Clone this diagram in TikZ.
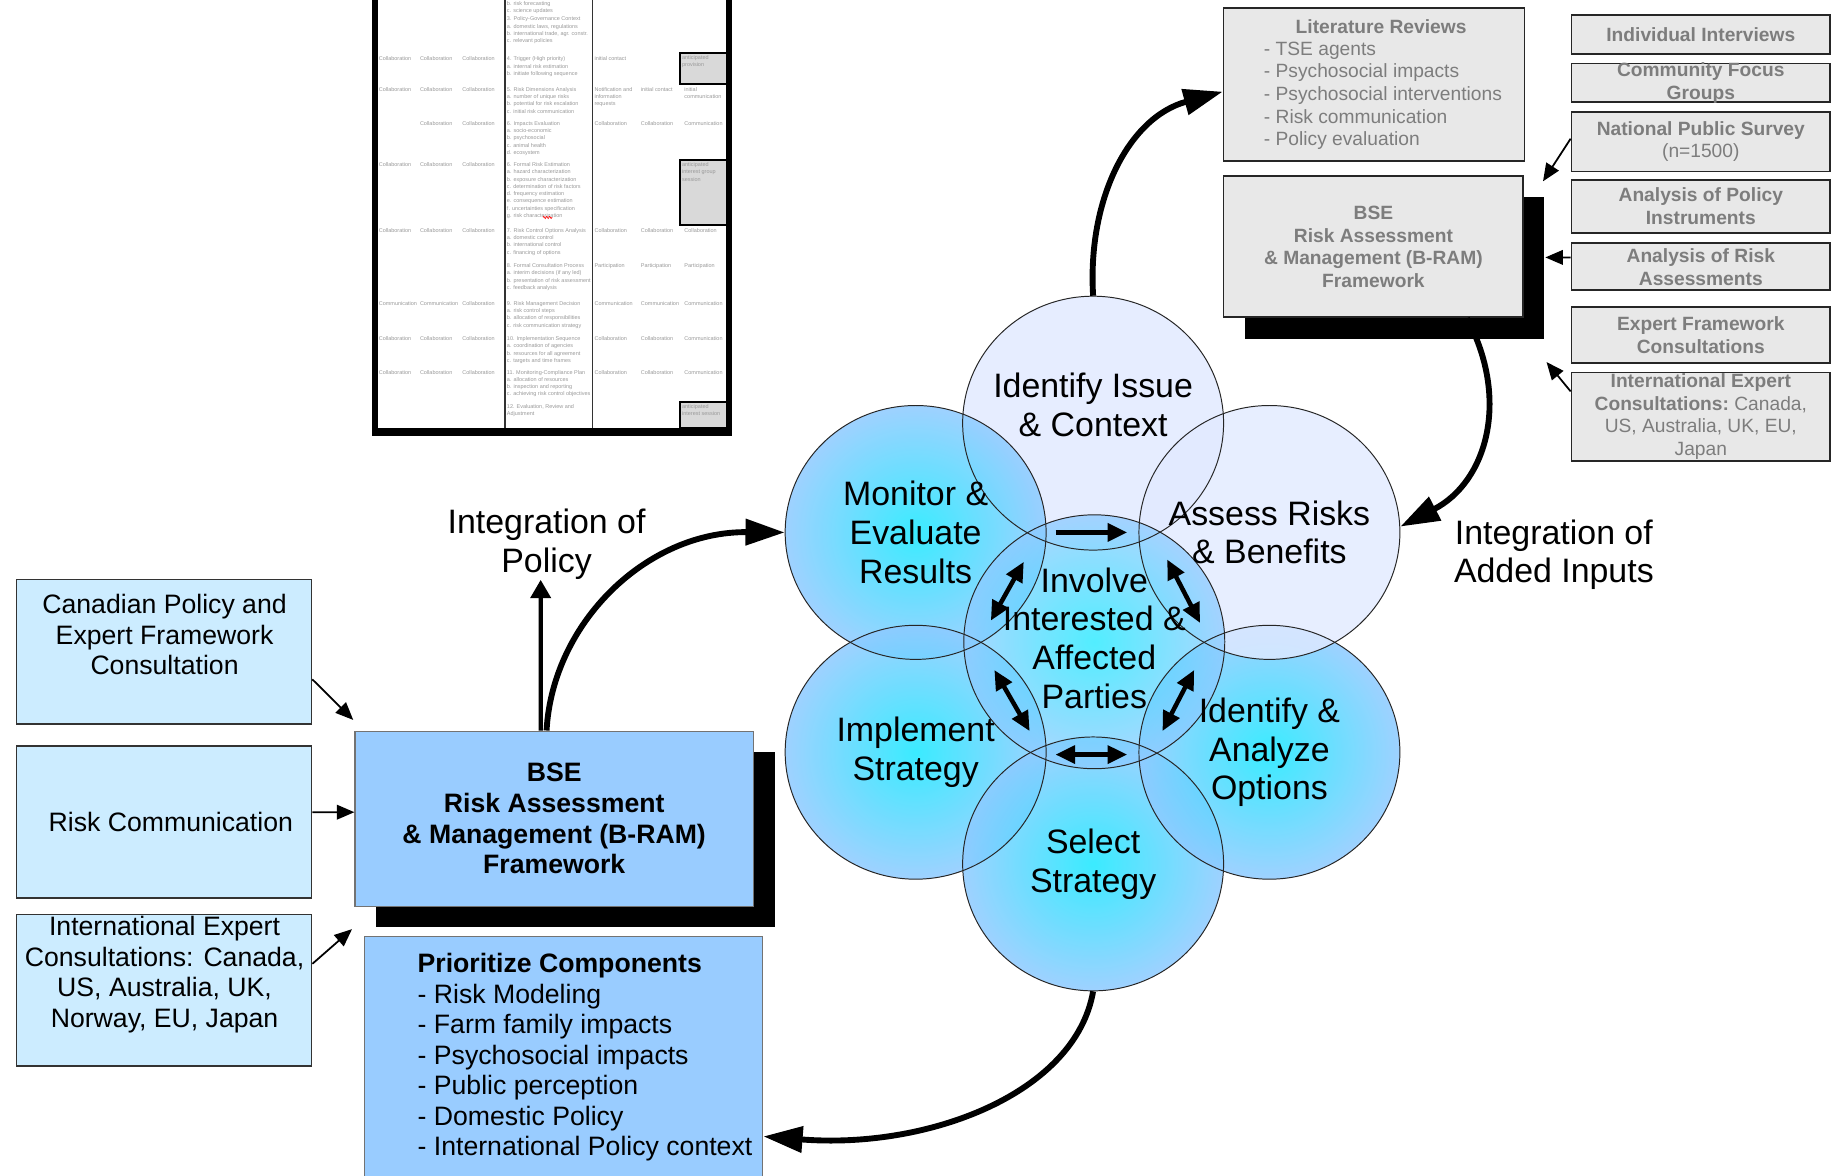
\documentclass[tikz,border=0pt]{standalone}
\usepackage{fontspec}
\setmainfont{Liberation Sans}
\usetikzlibrary{arrows.meta,shapes.geometric,shadows,decorations.pathmorphing}

\definecolor{paleblue}{RGB}{204,236,255}
\definecolor{midblue}{RGB}{153,204,255}
\definecolor{boxgray}{RGB}{232,232,232}
\definecolor{textgray}{RGB}{125,125,125}
\definecolor{ringcyan}{RGB}{25,232,255}
\definecolor{ringblue}{RGB}{142,202,255}
\definecolor{ringpale}{RGB}{226,234,255}

\newcommand{\circfont}{\fontsize{17.3}{19.8}\selectfont}
\newcommand{\boxfont}{\fontsize{13.6}{15.6}\selectfont}
\newcommand{\grayfont}{\fontsize{9.8}{11.6}\selectfont}
\newcommand{\tabfont}{\fontsize{2.8}{3.7}\selectfont}

\tikzset{>={Triangle[length=9pt,width=7.5pt]}}
\tikzset{
  lbox/.style={draw=black!80,line width=0.9pt,fill=paleblue,minimum width=150.6pt,inner sep=0pt},
  ltext/.style={font=\boxfont,align=center,inner sep=0pt},
  bbox/.style={draw=black!55,line width=0.6pt,fill=midblue,inner sep=0pt},
  bshadow/.style={drop shadow={shadow xshift=10.8pt,shadow yshift=-10.8pt,fill=black,opacity=1}},
  gbox/.style={draw=black!85,line width=0.9pt,fill=boxgray,inner sep=0pt,font=\grayfont\bfseries,text=textgray,align=center},
  gtext/.style={font=\grayfont,text=textgray,align=left,inner sep=0pt},
  ring/.style={ellipse,draw=black!85,line width=0.5pt,minimum width=133.2pt,minimum height=129.6pt,inner sep=0pt},
  ctext/.style={font=\circfont,align=center,inner sep=0pt},
  cell/.style={font=\tabfont,text=black!40,align=left,inner sep=0pt,anchor=north west},
  bigarrow/.style={line width=3pt,-{Triangle[length=20pt,width=13pt]}},
  thinarrow/.style={line width=0.9pt,->},
  uparrow/.style={line width=2.2pt,-{Triangle[length=9.4pt,width=10.2pt]}},
  lensone/.style={line width=2.3pt,-{Triangle[length=10pt,width=9pt]}},
  lenstwo/.style={line width=2.3pt,{Triangle[length=10pt,width=9pt]}-{Triangle[length=10pt,width=9pt]}},
  blueshade/.style={inner color=ringcyan,outer color=ringblue,fill opacity=0.85},
}

\begin{document}
\begin{tikzpicture}[x=0.6pt,y=-0.6pt]
  \clip (0,0) rectangle (1568,1000);
  \fill[white] (0,0) rectangle (1568,1000);

  % table excerpt
  \fill[black] (316.5,-5) rectangle (321.5,371);
  \fill[black] (617.7,-5) rectangle (622.7,371);
  \fill[black] (316.5,364) rectangle (622.7,371);
  \draw[line width=0.7pt,black!80] (429.6,-5) -- (429.6,364) (504,-5) -- (504,364);
  \foreach \ya/\yb in {45/71.5,136/191.5,342/364}
    \draw[line width=0.9pt,fill=black!15] (617.7,\ya) -- (578.5,\ya) -- (578.5,\yb) -- (617.7,\yb);
  \node[cell] (g1) at (580,47) {anticipated\\provision};
  \node[cell] (g2) at (580,138) {anticipated\\interest group\\session};
  \node[cell] (g3) at (580,344) {anticipated\\interest session};

  \foreach \y/\p/\q/\r [count=\k] in {48/Collaboration/Collaboration/Collaboration,
      74/Collaboration/Collaboration/Collaboration, 103//Collaboration/Collaboration,
      138/Collaboration/Collaboration/Collaboration, 194/Collaboration/Collaboration/Collaboration,
      256/Communication/Communication/Collaboration, 286/Collaboration/Collaboration/Collaboration,
      314.5/Collaboration/Collaboration/Collaboration}
  {
    \node[cell] (la\k) at (322,\y) {\p};
    \node[cell] (lb\k) at (357,\y) {\q};
    \node[cell] (lc\k) at (393,\y) {\r};
  }

  \foreach \y/\t [count=\k] in {1/{b. risk forecasting\\c. science updates},
      14/{3. Policy-Governance Context\\a. domestic laws, regulations\\b. international trade, agr. constr.\\c. relevant policies},
      48/{4. Trigger (High priority)\\a. internal risk estimation\\b. initiate following sequence},
      74/{5. Risk Dimensions Analysis\\a. number of unique risks\\b. potential for risk escalation\\c. initial risk communication},
      103/{6. Impacts Evaluation\\a. socio-economic\\b. psychosocial\\c. animal health\\d. ecosystem},
      138/{6. Formal Risk Estimation\\a. hazard characterization\\b. exposure characterization\\c. determination of risk factors\\d. frequency estimation\\e. consequence estimation\\f. uncertainties specification\\g. risk characterization},
      194/{7. Risk Control Options Analysis\\a. domestic control\\b. international control\\c. financing of options},
      224/{8. Formal Consultation Process\\a. interim decisions (if any led)\\b. presentation of risk assessment\\c. feedback analysis},
      256/{9. Risk Management Decision\\a. risk control steps\\b. allocation of responsibilities\\c. risk communication strategy},
      286/{10. Implementation Sequence\\a. coordination of agencies\\b. resources for all agreement\\c. targets and time frames},
      314.5/{11. Monitoring-Compliance Plan\\a. allocation of resources\\b. inspection and reporting\\c. achieving risk control objectives},
      344/{12. Evaluation, Review and\\Adjustment}}
    \node[cell] (m\k) at (431,\y) {\t};
  \draw[red,line width=0.3pt,decorate,decoration={zigzag,segment length=1.5pt,amplitude=0.6pt}] (462,185) -- (470,185);

  \foreach \y/\p/\q/\r [count=\k] in {48/{initial contact}//,
      74/{Notification and\\information\\requests}/{initial contact}/{initial\\communication},
      103/Collaboration/Collaboration/Communication, 194/Collaboration/Collaboration/Collaboration,
      224/Participation/Participation/Participation, 256/Communication/Communication/Communication,
      286/Collaboration/Collaboration/Communication, 314.5/Collaboration/Collaboration/Communication}
  {
    \node[cell] (ra\k) at (505.5,\y) {\p};
    \node[cell] (rb\k) at (545,\y) {\q};
    \node[cell] (rc\k) at (582,\y) {\r};
  }

  % the seven circles
  \coordinate (c-issue) at (930,360);
  \coordinate (c-monitor) at (779,453);
  \coordinate (c-assess) at (1080,453);
  \coordinate (c-involve) at (931,546);
  \coordinate (c-implement) at (779,640);
  \coordinate (c-analyze) at (1080,640);
  \coordinate (c-select) at (930,735);

  \fill[ringpale,fill opacity=0.85] (c-issue) ellipse [x radius=111,y radius=108];
  \foreach \c in {monitor,implement,select,analyze}
    \shade[blueshade] (c-\c) ellipse [x radius=111,y radius=108];
  \fill[ringpale,fill opacity=0.8] (c-assess) ellipse [x radius=111,y radius=108];
  \shade[inner color=ringcyan,outer color=ringblue,fill opacity=0.75] (c-involve) ellipse [x radius=111,y radius=108];
  \foreach \c in {issue,monitor,assess,implement,analyze,select,involve}
    \node[ring] (\c) at (c-\c) {};

  \node[ctext] (t-issue) at ([yshift=9.3pt]issue.center) {Identify Issue\\\& Context};
  \node[ctext] (t-monitor) at (monitor) {Monitor \&\\Evaluate\\Results};
  \node[ctext] (t-assess) at (assess) {Assess Risks\\\& Benefits};
  \node[ctext] (t-involve) at ([yshift=1.8pt]involve.center) {Involve\\Interested \&\\Affected\\Parties};
  \node[ctext] (t-implement) at (implement) {Implement\\Strategy};
  \node[ctext] (t-analyze) at (analyze) {Identify \&\\Analyze\\Options};
  \node[ctext] (t-select) at (select) {Select\\Strategy};

  \foreach \sx/\sy/\ex/\ey/\kind in {-33/-93/28/-93/lensone, -60/-68/-88/-18/lenstwo, 62/-70/90/-16/lenstwo,
      -85/24/-55/76/lenstwo, 85/24/58/76/lenstwo, -33/96/28/96/lenstwo}
    \draw[\kind] ([shift={(\sx,\sy)}]involve.center) -- ([shift={(\ex,\ey)}]involve.center);

  % right hand inputs
  \node[gbox,minimum width=153.6pt,minimum height=78pt] (lit) at (1169,72) {};
  \node[gtext,font=\grayfont\bfseries] (littitle) at (1175,23) {Literature Reviews};
  \node[gtext,anchor=west] (litlist) at (1075,81.5) {- TSE agents\\- Psychosocial impacts\\- Psychosocial interventions\\- Risk communication\\- Policy evaluation};
  \node[gbox,bshadow,minimum width=153pt,minimum height=72pt] (grbse) at (1168.5,210) {BSE\\Risk Assessment\\\& Management (B-RAM)\\Framework};

  \node[gbox,minimum width=132pt,minimum height=19.8pt] (indiv) at (1447,29.5) {Individual Interviews};
  \node[gbox,minimum width=132pt,minimum height=19.8pt] (focus) at (1447,70.5) {};
  \node[gtext,font=\grayfont\bfseries,align=center] (focustext) at (focus) {Community Focus\\Groups};
  \node[gbox,minimum width=132pt,minimum height=30.6pt] (npsurvey) at (1447,120.5) {National Public Survey\\{\mdseries (n=1500)}};
  \node[gbox,minimum width=132pt,minimum height=27pt] (policy) at (1447,175.5) {Analysis of Policy\\Instruments};
  \node[gbox,minimum width=132pt,minimum height=24pt] (riskass) at (1447,227) {Analysis of Risk\\Assessments};
  \node[gbox,minimum width=132pt,minimum height=28.8pt] (expert) at (1447,285) {Expert Framework\\Consultations};
  \node[gbox,minimum width=132pt,minimum height=45pt] (intlr) at (1447,354.5) {International Expert\\Consultations:{\mdseries\ Canada,}\\{\mdseries US, Australia, UK, EU,}\\{\mdseries Japan}};

  \draw[thinarrow] ([yshift=1.5pt]npsurvey.west) -- ([shift={(16,5)}]grbse.north east);
  \draw[thinarrow] ([yshift=4.8pt]riskass.west) -- ([shift={(18,9)}]grbse.east);
  \draw[thinarrow] ([yshift=12.9pt]intlr.west) -- ([shift={(19,98)}]grbse.east);

  % left hand inputs
  \node[lbox,minimum height=73.8pt] (canad) at (139.5,554.5) {};
  \node[ltext] (canadtext) at (140,540) {Canadian Policy and\\Expert Framework\\Consultation};
  \node[lbox,minimum height=77.4pt,font=\boxfont] (riskcomm) at (139.5,699.5) {\hspace{7pt}Risk Communication};
  \node[lbox,minimum height=77.4pt] (intll) at (139.5,842.5) {};
  \node[ltext] (intlltext) at (140,829) {International Expert\\Consultations: Canada,\\US, Australia, UK,\\Norway, EU, Japan};

  \node[bbox,bshadow,minimum width=203.4pt,minimum height=89.4pt,font=\boxfont\bfseries,align=center] (bseb) at (471.5,696.5) {BSE\\Risk Assessment\\\& Management (B-RAM)\\Framework};
  \node[bbox,minimum width=203.4pt,minimum height=127.8pt] (prio) at (479.5,903.5) {};
  \node[ltext,align=left,anchor=west] (priotext) at (355,899.5) {\textbf{Prioritize Components}\\- Risk Modeling\\- Farm family impacts\\- Psychosocial impacts\\- Public perception\\- Domestic Policy\\- International Policy context};

  \draw[thinarrow] ([yshift=-14.1pt]canad.east) -- ([shift={(-1,-9)}]bseb.north west);
  \draw[thinarrow] ([yshift=5.1pt]riskcomm.east) -- ([yshift=3.3pt]bseb.west);
  \draw[thinarrow] ([yshift=13.5pt]intll.east) -- ([shift={(-2,19)}]bseb.south west);

  \node[ctext] (polint) at (465,463) {Integration of\\Policy};
  \node[ctext] (addint) at (1322,472) {Integration of\\Added Inputs};

  % loop arrows
  \draw[uparrow] ([xshift=-6.9pt]bseb.north) -- ([xshift=-3pt]polint.south);
  \draw[bigarrow] ([xshift=-3.9pt]bseb.north) .. controls (470,530) and (550,452) .. (monitor.west);
  \draw[bigarrow] (select.south) .. controls (915,930) and (790,978) .. ([yshift=-38pt]prio.east);
  \draw[bigarrow] (issue.north) .. controls (925,170) and (960,100) .. ([yshift=-3.6pt]lit.west);
  \draw[bigarrow] ([xshift=47.7pt]grbse.south) .. controls (1285,340) and (1265,410) .. ([yshift=3pt]assess.east);
\end{tikzpicture}
\end{document}
